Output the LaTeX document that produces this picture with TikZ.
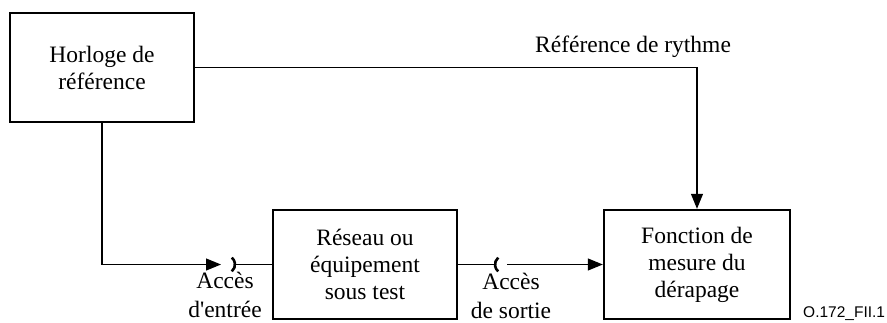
\documentclass[tikz,border=0pt]{standalone}
\usepackage{fontspec}
\setmainfont{Liberation Serif}
\newfontfamily\labelsans{Liberation Sans}
\usetikzlibrary{arrows.meta}
\begin{document}
\begin{tikzpicture}[x=1pt,y=-1pt,
  blockbox/.style={draw,line width=2.4pt,minimum width=184pt,minimum height=109pt,
    align=center,inner sep=0pt,font=\fontsize{23.5}{27}\selectfont},
  wire/.style={line width=1.2pt},
  tip/.style={wire,-{Triangle[length=15pt,width=12pt]}},
  port/.style={line width=2.6pt},
  lbl/.style={align=center,inner sep=0pt,font=\fontsize{23.5}{29}\selectfont}]
\useasboundingbox (0,0) rectangle (887,322);
\node[blockbox] (horloge) at (102,67.5) {Horloge de\\référence};
\node[blockbox] (reseau) at (365,264.5) {Réseau ou\\équipement\\sous test};
\node[blockbox,minimum width=186pt] (fonction) at (697,264.5) {Fonction de\\mesure du\\dérapage};
% ports
\coordinate (inc) at (226,264.5);
\coordinate (inarr) at (221,264.5);
\coordinate (inR) at (235,264.5);
\coordinate (outc) at (504,264.5);
\coordinate (outL) at (495,264.5);
\coordinate (outR) at (507,264.5);
\draw[port] ([shift={(-50:9pt)}]inc) arc[start angle=-50,end angle=50,radius=9pt];
\draw[port] ([shift={(130:9pt)}]outc) arc[start angle=130,end angle=230,radius=9pt];
% connectors
\draw[tip] (horloge.east) -| (fonction.north);
\draw[tip] (horloge.south) |- (inarr);
\draw[wire] (inR) -- (reseau.west);
\draw[wire] (reseau.east) -- (outL);
\draw[tip] (outR) -- (fonction.west);
% labels
\node[lbl] (inlbl) at (225,295) {Accès\\d\textquotesingle entrée};
\node[lbl] (outlbl) at (511,296) {Accès\\de sortie};
\node[anchor=base west,inner sep=0pt,font=\fontsize{23.5}{27}\selectfont] (rythme) at (535,52) {Référence de rythme};
\node[anchor=base west,inner sep=0pt,font=\labelsans\fontsize{15.5}{18}\selectfont] (fig) at (803,317) {O.172\_FII.1};
\end{tikzpicture}
\end{document}
